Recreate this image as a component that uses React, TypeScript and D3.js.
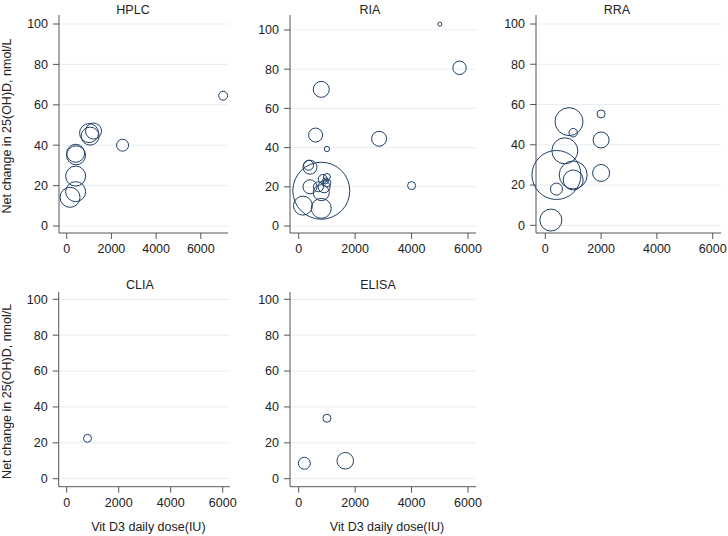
import React from "react";
import * as d3 from "d3";

// ---- data (dose IU/day, net change nmol/L, study weight) ----
const hplcDose = [7000, 2500, 1000, 1050, 1200, 400, 420, 400, 400, 150];
const hplcChange = [64.5, 40, 46, 44.5, 47, 36, 35, 24.7, 17, 14.2];
const hplcWeight = [20, 36, 90, 81, 64, 81, 90, 100, 100, 100];

const riaDose = [5000, 5700, 800, 600, 2850, 1000, 350, 400, 800, 150, 800, 400, 800, 700, 850, 1000, 1000, 950, 900, 4000];
const riaChange = [103, 80.7, 69.7, 46.4, 44.5, 39.3, 31, 30, 18, 10.4, 9, 20, 17, 20, 24, 25, 22, 23, 20, 20.6];
const riaWeight = [4, 45, 64, 49, 56, 7, 25, 49, 812, 90, 100, 49, 64, 25, 20, 12, 16, 9, 36, 16];

const rraDose = [2000, 850, 1000, 2000, 700, 400, 1000, 1000, 2000, 400, 200];
const rraChange = [55.3, 51.5, 46, 42.4, 37, 25, 25, 22.5, 26, 18, 2.6];
const rraWeight = [16, 196, 18, 64, 169, 600, 196, 100, 72, 36, 121];

const cliaDose = [800];
const cliaChange = [22.5];
const cliaWeight = [16];

const elisaDose = [1000, 200, 1650];
const elisaChange = [33.7, 8.6, 10];
const elisaWeight = [16, 36, 69];

const xTicks = [0, 2000, 4000, 6000];
const yTicks = [0, 20, 40, 60, 80, 100];
const yTitle = "Net change in 25(OH)D, nmol/L";
const xTitle = "Vit D3 daily dose(IU)";

// ---- layout ----
const panels = [
  { name: "HPLC", dose: hplcDose, change: hplcChange, weight: hplcWeight,
    left: 59, right: 228, top: 15, bottom: 233, xr: [66.7, 200.8], yr: [226, 24], titleX: 133, titleY: 14, showY: true, showX: false },
  { name: "RIA", dose: riaDose, change: riaChange, weight: riaWeight,
    left: 290, right: 476, top: 15, bottom: 233, xr: [298.7, 468], yr: [226, 30], titleX: 370, titleY: 14, showY: false, showX: false },
  { name: "RRA", dose: rraDose, change: rraChange, weight: rraWeight,
    left: 536, right: 721, top: 15, bottom: 233, xr: [545.3, 712.7], yr: [225.3, 24], titleX: 617, titleY: 14, showY: false, showX: false },
  { name: "CLIA", dose: cliaDose, change: cliaChange, weight: cliaWeight,
    left: 58.7, right: 230, top: 292, bottom: 486.7, xr: [66.7, 222.7], yr: [478.7, 299.3], titleX: 140, titleY: 289, showY: true, showX: true },
  { name: "ELISA", dose: elisaDose, change: elisaChange, weight: elisaWeight,
    left: 290, right: 476, top: 292, bottom: 486.7, xr: [298.7, 468], yr: [478.7, 299.3], titleX: 378, titleY: 289, showY: false, showX: true },
];

const FONT = "'Liberation Sans', Arial, sans-serif";
const AXIS = "#555";
const GRID = "#e9edf1";
const MARK = "#1f3f66";

const rScale = d3.scaleSqrt().domain([0, 100]).range([0, 10]);

function Panel({ p }: { p: (typeof panels)[number] }) {
  const x = d3.scaleLinear().domain([0, 6000]).range(p.xr);
  const y = d3.scaleLinear().domain([0, 100]).range(p.yr);
  const pts = p.dose.map((d, i) => ({ d, c: p.change[i], w: p.weight[i] }));
  return (
    <g>
      {yTicks.map((t) => (
        <line key={"g" + t} x1={p.left} x2={p.right} y1={y(t)} y2={y(t)} stroke={GRID} strokeWidth={1} />
      ))}
      <line x1={p.left} x2={p.left} y1={p.top} y2={p.bottom} stroke={AXIS} strokeWidth={1} />
      <line x1={p.left} x2={p.right} y1={p.bottom} y2={p.bottom} stroke={AXIS} strokeWidth={1} />
      {yTicks.map((t) => (
        <g key={"y" + t}>
          <line x1={p.left - 6} x2={p.left} y1={y(t)} y2={y(t)} stroke={AXIS} strokeWidth={1} />
          <text x={p.left - 11} y={y(t)} dy="0.35em" textAnchor="end" fontSize={12.5} fill="#222">{t}</text>
        </g>
      ))}
      {xTicks.map((t) => (
        <g key={"x" + t}>
          <line x1={x(t)} x2={x(t)} y1={p.bottom} y2={p.bottom + 6} stroke={AXIS} strokeWidth={1} />
          <text x={x(t)} y={p.bottom + 16} dy="0.35em" textAnchor="middle" fontSize={12.5} fill="#222">{t}</text>
        </g>
      ))}
      <text x={p.titleX} y={p.titleY} textAnchor="middle" fontSize={12.5} fill="#222">{p.name}</text>
      {pts.map((q, i) => (
        <circle key={i} cx={x(q.d)} cy={y(q.c)} r={rScale(q.w)} fill="none" stroke={MARK} strokeWidth={1} />
      ))}
      {p.showY && (
        <text transform={`translate(11,${(p.top + p.bottom) / 2 + 2}) rotate(-90)`} textAnchor="middle" fontSize={12.5} fill="#222">{yTitle}</text>
      )}
      {p.showX && (
        <text x={(p.left + p.right) / 2 + 4} y={531} textAnchor="middle" fontSize={12.5} fill="#222">{xTitle}</text>
      )}
    </g>
  );
}

export default function App() {
  return (
    <svg width={728} height={536} style={{ position: "absolute", left: 0, top: 0, background: "#fff" }} fontFamily={FONT}>
      <rect width={728} height={536} fill="#fff" />
      {panels.map((p) => (
        <Panel key={p.name} p={p} />
      ))}
    </svg>
  );
}
